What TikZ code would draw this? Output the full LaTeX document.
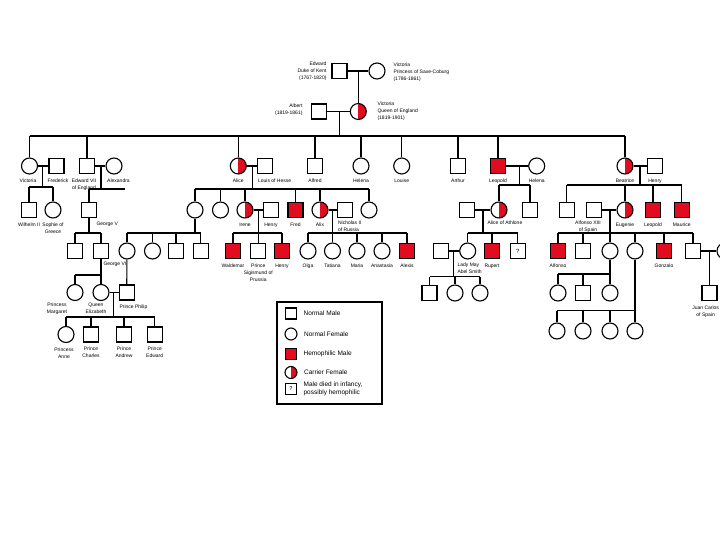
\documentclass[tikz,border=0pt]{standalone}
\usepackage{fontspec}
\setmainfont{Liberation Sans}
\usetikzlibrary{positioning}
\definecolor{hemored}{RGB}{226,12,32}

\begin{document}
\begin{tikzpicture}[x=1pt, y=-1pt, line width=1.1pt,
    male/.style={draw, rectangle, minimum size=15pt, inner sep=0pt, fill=white},
    female/.style={draw, circle, minimum size=16pt, inner sep=0pt, fill=white},
    hemo/.style={male, fill=hemored},
    carrier/.style={female, path picture={\fill[hemored] (path picture bounding box.north) rectangle (path picture bounding box.south east);}},
    lbl/.style={font=\fontsize{5}{7}\selectfont, inner sep=0pt, align=center},
    keytxt/.style={font=\fontsize{6.5}{8}\selectfont, inner sep=0pt, align=left, anchor=west},
    every label/.style={lbl}, label distance=4pt]
    \useasboundingbox (0,0) rectangle (720,540);
    \clip (0,0) rectangle (720,540);
    % Generation I
    \node[male] (edw) at (339.5,71) {};
    \node[female] (vsc) at (377,71) {};
    \node[lbl, anchor=east, align=right] (edwtxt) at (327,71) {Edward\\Duke of Kent\\(1767-1820)};
    \node[lbl, anchor=west, align=left] (vsctxt) at (393,72) {Victoria\\Princess of Saxe-Coburg\\(1786-1861)};
    \draw (edw) -- (vsc);
    \coordinate (m0) at (358.3,71);
    % Generation II
    \node[male] (alb) at (319,111.5) {};
    \node[carrier] (qv) at (358.3,111.5) {};
    \node[lbl, anchor=east, align=right] (albtxt) at (303,110) {Albert\\(1819-1861)};
    \node[lbl, anchor=west, align=left] (qvtxt) at (377,111) {Victoria\\Queen of England\\(1819-1901)};
    \draw (m0) -- (qv);
    \draw (alb) -- (qv);
    \coordinate (m1) at (339.3,111.5);
    \coordinate (s1) at (0,136);
    % Generation III
    \node[female, label={[xshift=-1.5pt]below:Victoria}] (vic) at (29.5,166) {};
    \node[male, label={[xshift=1.5pt]below:Frederick}] (fred) at (56.5,166) {};
    \node[male, label={[xshift=-3pt]below:Edward VII\\of England}] (ed7) at (87,166) {};
    \node[female, label={[xshift=4.5pt]below:Alexandra}] (alexandra) at (114,166) {};
    \node[carrier, label=below:Alice] (alice) at (238.3,166) {};
    \node[male] (louis) at (265,166) {};
    \node[lbl, anchor=north west] (louistxt) at (257.5,178.5) {Louis of Hesse};
    \node[male, label=below:Alfred] (alfred) at (315,166) {};
    \node[female, label=below:Helena] (helena) at (361,166) {};
    \node[female, label=below:Louise] (louise) at (401.7,166) {};
    \node[male, label=below:Arthur] (arthur) at (458,166) {};
    \node[hemo, label=below:Leopold] (leo) at (498,166) {};
    \node[female, label=below:Helena] (helen) at (536.7,166) {};
    \node[carrier, label=below:Beatrice] (bea) at (625,166) {};
    \node[male, label=below:Henry] (henry) at (655,166) {};
    \draw (m1) -- (m1 |- s1);
    \draw (vic |- s1) -- (bea |- s1);
    \foreach \c in {vic, ed7, alice, alfred, helena, louise, arthur, leo, bea}
        \draw (\c |- s1) -- (\c);
    \draw (vic) -- (fred);
    \draw (ed7) -- (alexandra);
    \draw (alice) -- (louis);
    \draw (leo) -- (helen);
    \draw (bea) -- (henry);
    % Generation IV
    \coordinate (m2) at (42.7,166);
    \coordinate (s2) at (0,187);
    \node[male, label=below:Wilhelm II] (wil) at (29,210) {};
    \node[female, label={below:Sophie of\\Greece}] (soph) at (53,210) {};
    \draw (m2) -- (m2 |- s2);
    \draw (wil |- s2) -- (soph |- s2);
    \draw (wil |- s2) -- (wil);
    \draw (soph |- s2) -- (soph);
    \coordinate (m3) at (101,166);
    \coordinate (s3) at (125,189);
    \node[male] (geo5) at (89,210) {};
    \node[lbl, anchor=west] (geo5txt) at (96,224) {George V};
    \draw (m3) -- (m3 |- s3);
    \draw (geo5 |- s3) -- (s3);
    \draw (geo5 |- s3) -- (geo5);
    \coordinate (m4) at (252.7,166);
    \coordinate (s4) at (0,189);
    \node[female] (vh) at (195,210) {};
    \node[female] (ella) at (220.5,210) {};
    \node[carrier, label=below:Irene] (irene) at (245,210) {};
    \node[male, label=below:Henry] (henp) at (271,210) {};
    \node[hemo, label=below:Fred] (fritz) at (295.5,210) {};
    \node[carrier, label=below:Alix] (alix) at (320,210) {};
    \node[male] (nich) at (345,210) {};
    \node[lbl, anchor=north west, align=left] (nichtxt) at (337.5,220.5) {Nicholas II\\of Russia};
    \node[female] (may) at (369,210) {};
    \draw (m4) -- (m4 |- s4);
    \draw (vh |- s4) -- (may |- s4);
    \foreach \c in {vh, ella, irene, fritz, alix, may}
        \draw (\c |- s4) -- (\c);
    \draw (irene) -- (henp);
    \draw (alix) -- (nich);
    \coordinate (m5) at (519.3,166);
    \coordinate (s5) at (0,185);
    \node[male] (alexa) at (467,210) {};
    \node[carrier] (atha) at (499,210) {};
    \node[lbl, anchor=north west] (athatxt) at (487,220) {Alice of Athlone};
    \node[male] (charl) at (530,210) {};
    \draw (m5) -- (m5 |- s5);
    \draw (atha |- s5) -- (charl |- s5);
    \draw (atha |- s5) -- (atha);
    \draw (charl |- s5) -- (charl);
    \draw (alexa) -- (atha);
    \coordinate (m6) at (640,166);
    \coordinate (s6) at (0,185);
    \node[male] (alxb) at (566.7,210) {};
    \node[male] (alf) at (594,210) {};
    \node[lbl, anchor=north] (alftxt) at (588,220) {Alfonso XIII\\of Spain};
    \node[carrier, label=below:Eugenie] (eug) at (625,210) {};
    \node[hemo, label=below:Leopold] (leo2) at (653,210) {};
    \node[hemo, label=below:Maurice] (maur) at (681.7,210) {};
    \draw (m6) -- (m6 |- s6);
    \draw (alxb |- s6) -- (maur |- s6);
    \foreach \c in {alxb, eug, leo2, maur}
        \draw (\c |- s6) -- (\c);
    \draw (alf) -- (eug);
    % Generation V
    \coordinate (s7) at (0,233);
    \node[male] (ed8) at (75,251) {};
    \node[male] (geo6) at (101,251) {};
    \node[lbl, anchor=north west] (geo6txt) at (103,261) {George VI};
    \draw (geo5) -- (geo5 |- s7);
    \draw (ed8 |- s7) -- (geo6 |- s7);
    \draw (ed8 |- s7) -- (ed8);
    \draw (geo6 |- s7) -- (geo6);
    \node[female] (alb2) at (127,251) {};
    \node[female] (lou) at (152.5,251) {};
    \node[male] (geob) at (176,251) {};
    \node[male] (louism) at (200.7,251) {};
    \draw (vh) -- (vh |- s7);
    \draw (alb2 |- s7) -- (louism |- s7);
    \foreach \c in {alb2, lou, geob, louism}
        \draw (\c |- s7) -- (\c);
    \coordinate (m9) at (258.3,210);
    \node[hemo, label=below:Waldemar] (wald) at (233,251) {};
    \node[male, label={below:Prince\\Sigismund of\\Prussia}] (sig) at (258.3,251) {};
    \node[hemo, label=below:Henry] (hen2) at (282,251) {};
    \draw (m9) -- (sig);
    \draw (wald |- s7) -- (hen2 |- s7);
    \draw (wald |- s7) -- (wald);
    \draw (hen2 |- s7) -- (hen2);
    \coordinate (m10) at (332.5,210);
    \node[female, label=below:Olga] (olga) at (308,251) {};
    \node[female, label=below:Tatiana] (tat) at (332.5,251) {};
    \node[female, label=below:Maria] (mar) at (357,251) {};
    \node[female, label=below:Anastasia] (ana) at (382,251) {};
    \node[hemo, label=below:Alexis] (alexis) at (407,251) {};
    \draw (m10) -- (tat);
    \draw (olga |- s7) -- (alexis |- s7);
    \foreach \c in {olga, mar, ana, alexis}
        \draw (\c |- s7) -- (\c);
    \coordinate (m11) at (483,210);
    \node[male] (lmh) at (441,251) {};
    \node[female] (lmay) at (467.7,251) {};
    \node[lbl, anchor=north west, align=left] (lmaytxt) at (457,262) {Lady May\\Abel Smith};
    \node[hemo, label=below:Rupert] (rup) at (492,251) {};
    \node[male, font=\fontsize{6}{7}\selectfont] (unk) at (517.7,251) {?};
    \draw (m11) -- (m11 |- s7);
    \draw (lmay |- s7) -- (unk |- s7);
    \foreach \c in {lmay, rup, unk}
        \draw (\c |- s7) -- (\c);
    \draw (lmh) -- (lmay);
    \coordinate (m12) at (610,210);
    \node[hemo, label=below:Alfonso] (alfo) at (558,251) {};
    \node[male] (jai) at (583,251) {};
    \node[female] (bz) at (610,251) {};
    \node[female] (mr) at (635,251) {};
    \node[hemo, label=below:Gonzalo] (gon) at (664,251) {};
    \node[male] (juan) at (693,251) {};
    \node[female] (juanw) at (725,251) {};
    \draw (m12) -- (m12 |- s7);
    \draw (alfo |- s7) -- (juan |- s7);
    \foreach \c in {alfo, jai, bz, mr, gon, juan}
        \draw (\c |- s7) -- (\c);
    \draw (juan) -- (juanw);
    % Generation VI
    \coordinate (s13) at (0,275);
    \node[female] (marg) at (75,292.5) {};
    \node[lbl, anchor=north] (margtxt) at (57,302) {Princess\\Margaret};
    \node[female] (qe) at (101,292.5) {};
    \node[lbl, anchor=north] (qetxt) at (96,302) {Queen\\Elizabeth};
    \node[male] (phil) at (126.7,292.5) {};
    \node[lbl, anchor=north west] (philtxt) at (119,304) {Prince Philip};
    \draw (geo6) -- (qe);
    \draw (marg |- s13) -- (qe |- s13);
    \draw (marg |- s13) -- (marg);
    \draw (alb2) -- (phil);
    \draw (qe) -- (phil);
    \coordinate (m14) at (453.3,251);
    \coordinate (s14) at (0,276.7);
    \node[male] (c1) at (429.5,293) {};
    \node[female] (c2) at (455,293) {};
    \node[female] (c3) at (480,293) {};
    \draw (m14) -- (m14 |- s14);
    \draw (c1 |- s14) -- (c3 |- s14);
    \foreach \c in {c1, c2, c3}
        \draw (\c |- s14) -- (\c);
    \coordinate (s15) at (0,274);
    \node[female] (b1) at (558,293) {};
    \node[male] (b2) at (583,293) {};
    \node[female] (b3) at (610,293) {};
    \draw (bz) -- (b3);
    \draw (b1 |- s15) -- (b3 |- s15);
    \draw (b1 |- s15) -- (b1);
    \draw (b2 |- s15) -- (b2);
    \coordinate (m16) at (709.5,251);
    \node[male] (jc) at (709.5,293) {};
    \node[lbl, anchor=north east, align=center] (jctxt) at (719.5,305) {Juan Carlos\\of Spain};
    \draw (m16) -- (jc);
    % Generation VII
    \coordinate (m17) at (113.7,292.5);
    \coordinate (s17) at (0,317);
    \node[female, label={[xshift=-2pt]below:Princess\\Anne}] (anne) at (66,334.5) {};
    \node[male, label={below:Prince\\Charles}] (charles) at (91,334.5) {};
    \node[male, label={below:Prince\\Andrew}] (andrew) at (124,334.5) {};
    \node[male, label={below:Prince\\Edward}] (edwd) at (154.7,334.5) {};
    \draw (m17) -- (m17 |- s17);
    \draw (anne |- s17) -- (edwd |- s17);
    \foreach \c in {anne, charles, andrew, edwd}
        \draw (\c |- s17) -- (\c);
    \coordinate (s18) at (0,310.7);
    \node[female] (r1) at (557,331) {};
    \node[female] (r2) at (583,331) {};
    \node[female] (r3) at (610,331) {};
    \node[female] (r4) at (635,331) {};
    \draw (mr) -- (r4);
    \draw (r1 |- s18) -- (r4 |- s18);
    \foreach \c in {r1, r2, r3}
        \draw (\c |- s18) -- (\c);
    % Key
    \node[draw, line width=1.3pt, minimum width=105pt, minimum height=102pt, inner sep=0pt] (key) at (329.5,353) {};
    \node[male, minimum size=11pt] (k1) at (291,313.5) {};
    \node[female, minimum size=12pt] (k2) at (291,334) {};
    \node[hemo, minimum size=11pt] (k3) at (291,353.7) {};
    \node[carrier, minimum size=12pt] (k4) at (291,372.5) {};
    \node[male, minimum size=11pt, font=\fontsize{5.5}{6}\selectfont] (k5) at (291,389) {?};
    \node[keytxt, right=6pt of k1] (k1txt) {Normal Male};
    \node[keytxt, right=6pt of k2] (k2txt) {Normal Female};
    \node[keytxt, right=6pt of k3] (k3txt) {Hemophilic Male};
    \node[keytxt, right=6pt of k4] (k4txt) {Carrier Female};
    \node[keytxt, right=6pt of k5] (k5txt) {Male died in infancy,\\possibly hemophilic};
\end{tikzpicture}
\end{document}
